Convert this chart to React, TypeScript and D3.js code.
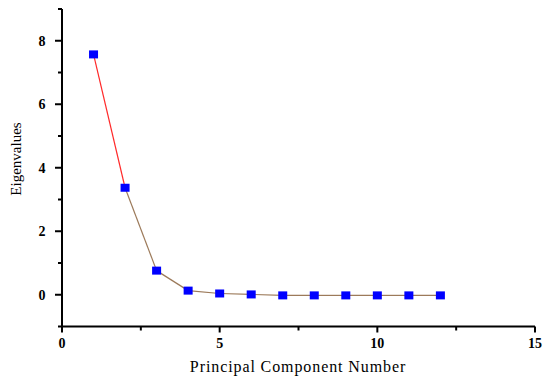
import React, { useEffect, useRef } from "react";
import * as d3 from "d3";

// scree plot values
const components = [1, 2, 3, 4, 5, 6, 7, 8, 9, 10, 11, 12];
const eigenvalues = [7.57, 3.37, 0.76, 0.13, 0.04, 0.01, -0.02, -0.02, -0.02, -0.02, -0.02, -0.02];
const xTicks = [0, 5, 10, 15];
const xMinor = [2.5, 7.5, 12.5];
const yTicks = [0, 2, 4, 6, 8];
const yMinor = [-1, 1, 3, 5, 7, 9];

const W = 550;
const H = 382;
const FONT = "'Liberation Serif', 'Times New Roman', serif";

export default function App() {
  const ref = useRef<SVGSVGElement>(null);

  useEffect(() => {
    const svg = d3.select(ref.current);
    svg.selectAll("*").remove();

    const x = d3.scaleLinear().domain([0, 15]).range([62, 535]);
    const y = d3.scaleLinear().domain([-1, 9]).range([326.5, 9]);

    const g = svg.append("g");

    // axes lines
    g.append("line")
      .attr("x1", x(0)).attr("x2", x(15))
      .attr("y1", y(-1)).attr("y2", y(-1))
      .attr("stroke", "#000").attr("stroke-width", 2);
    g.append("line")
      .attr("x1", x(0)).attr("x2", x(0))
      .attr("y1", y(-1) + 1).attr("y2", y(9))
      .attr("stroke", "#000").attr("stroke-width", 2);

    // x ticks
    g.selectAll(".xt")
      .data(xTicks)
      .enter()
      .append("line")
      .attr("x1", d => x(d)).attr("x2", d => x(d))
      .attr("y1", y(-1)).attr("y2", y(-1) + 6)
      .attr("stroke", "#000").attr("stroke-width", 2);
    g.selectAll(".xm")
      .data(xMinor)
      .enter()
      .append("line")
      .attr("x1", d => x(d)).attr("x2", d => x(d))
      .attr("y1", y(-1)).attr("y2", y(-1) + 4)
      .attr("stroke", "#000").attr("stroke-width", 2);
    g.selectAll(".xl")
      .data(xTicks)
      .enter()
      .append("text")
      .attr("x", d => x(d))
      .attr("y", 348)
      .attr("text-anchor", "middle")
      .attr("font-family", FONT)
      .attr("font-weight", "bold")
      .attr("font-size", 14)
      .text(d => d);

    // y ticks
    g.selectAll(".yt")
      .data(yTicks)
      .enter()
      .append("line")
      .attr("x1", x(0) - 7).attr("x2", x(0))
      .attr("y1", d => y(d)).attr("y2", d => y(d))
      .attr("stroke", "#000").attr("stroke-width", 2);
    g.selectAll(".ym")
      .data(yMinor)
      .enter()
      .append("line")
      .attr("x1", x(0) - 4).attr("x2", x(0))
      .attr("y1", d => y(d)).attr("y2", d => y(d))
      .attr("stroke", "#000").attr("stroke-width", 2);
    g.selectAll(".yl")
      .data(yTicks)
      .enter()
      .append("text")
      .attr("x", 42)
      .attr("y", d => y(d) + 5)
      .attr("text-anchor", "middle")
      .attr("font-family", FONT)
      .attr("font-weight", "bold")
      .attr("font-size", 14)
      .text(d => d);

    // titles
    g.append("text")
      .attr("transform", "translate(21, 159) rotate(-90)")
      .attr("text-anchor", "middle")
      .attr("font-family", FONT)
      .attr("font-size", 15)
      .text("Eigenvalues");
    g.append("text")
      .attr("x", 298)
      .attr("y", 372)
      .attr("text-anchor", "middle")
      .attr("font-family", FONT)
      .attr("font-size", 16)
      .attr("letter-spacing", 0.9)
      .text("Principal Component Number");

    // line segments: first red, rest brown
    const pts = components.map((c, i) => [c, eigenvalues[i]] as [number, number]);
    const segs = d3.pairs(pts);
    g.selectAll(".seg")
      .data(segs)
      .enter()
      .append("line")
      .attr("x1", d => x(d[0][0])).attr("y1", d => y(d[0][1]))
      .attr("x2", d => x(d[1][0])).attr("y2", d => y(d[1][1]))
      .attr("stroke", (d, i) => (i === 0 ? "#ff2a2a" : "#9c7a5a"))
      .attr("stroke-width", 1.2);

    // markers
    g.selectAll(".pt")
      .data(pts)
      .enter()
      .append("rect")
      .attr("x", d => x(d[0]) - 4.5)
      .attr("y", d => y(d[1]) - 4)
      .attr("width", 9)
      .attr("height", 8)
      .attr("fill", "#0000ff");
  }, []);

  return (
    <svg
      ref={ref}
      width={W}
      height={H}
      style={{ position: "absolute", left: 0, top: 0, background: "#fff" }}
    />
  );
}
